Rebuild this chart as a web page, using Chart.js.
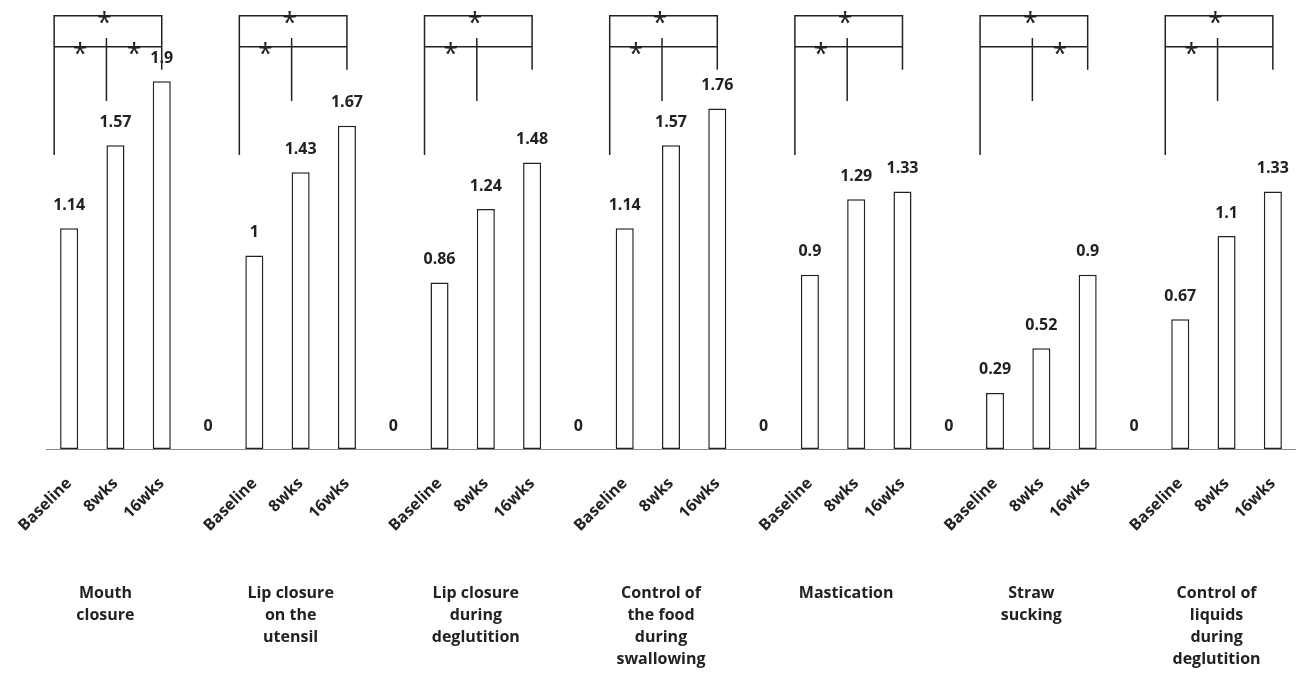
<!DOCTYPE html>
<html>
<head>
<meta charset="utf-8">
<script src="https://cdn.jsdelivr.net/npm/chart.js@4.4.0/dist/chart.umd.min.js"></script>
<style>
  html, body { margin: 0; padding: 0; background: #fff; }
  #wrap { width: 1296px; height: 673px; }
</style>
</head>
<body>
<div id="wrap"><canvas id="chart"></canvas></div>
<script>
const groups = [
  ['Mouth', 'closure'],
  ['Lip closure', 'on the', 'utensil'],
  ['Lip closure', 'during', 'deglutition'],
  ['Control of', 'the food', 'during', 'swallowing'],
  ['Mastication'],
  ['Straw', 'sucking'],
  ['Control of', 'liquids', 'during', 'deglutition']
];
const timepoints = ['Baseline', '8wks', '16wks'];
const baseline = [1.14, 1, 0.86, 1.14, 0.9, 0.29, 0.67];
const week8 = [1.57, 1.43, 1.24, 1.57, 1.29, 0.52, 1.1];
const week16 = [1.9, 1.67, 1.48, 1.76, 1.33, 0.9, 1.33];
const gapValue = 0;

// asterisks: overall bracket, baseline vs 8wks, 8wks vs 16wks
const sigOverall = [true, true, true, true, true, true, true];
const sigBase8 = [true, true, true, true, true, false, true];
const sig8to16 = [true, false, false, false, false, true, false];

// flatten into one category axis, with an empty "0" column between groups
const labels = [];
const values = [];
const isGap = [];
groups.forEach((g, i) => {
  [baseline[i], week8[i], week16[i]].forEach((v, t) => {
    labels.push(timepoints[t]);
    values.push(v);
    isGap.push(false);
  });
  if (i < groups.length - 1) {
    labels.push('');
    values.push(gapValue);
    isGap.push(true);
  }
});

const ink = '#222';
const fontFamily = '"Open Sans", "Noto Sans", sans-serif';

const valueLabels = {
  id: 'valueLabels',
  afterDatasetsDraw(chart) {
    const ctx = chart.ctx;
    const meta = chart.getDatasetMeta(0);
    ctx.save();
    ctx.font = 'bold 16px ' + fontFamily;
    ctx.fillStyle = ink;
    ctx.textAlign = 'center';
    ctx.textBaseline = 'middle';
    meta.data.forEach((bar, i) => {
      ctx.fillText(String(values[i]), bar.x, bar.y - 23);
    });
    ctx.restore();
  }
};

const brackets = {
  id: 'brackets',
  afterDraw(chart) {
    const ctx = chart.ctx;
    const x = chart.scales.x;
    const y = chart.scales.y;
    ctx.save();
    ctx.strokeStyle = ink;
    ctx.lineWidth = 1.5;
    ctx.fillStyle = ink;
    ctx.font = '27px ' + fontFamily;
    ctx.textAlign = 'center';
    ctx.textBaseline = 'alphabetic';
    const yTop = y.getPixelForValue(2.238);
    const yMid = y.getPixelForValue(2.078);
    groups.forEach((g, i) => {
      const xl = x.getPixelForValue(i * 4) - 15;
      const xm = x.getPixelForValue(i * 4 + 1) - 9;
      const xr = x.getPixelForValue(i * 4 + 2);
      ctx.beginPath();
      ctx.moveTo(xl, y.getPixelForValue(1.519));
      ctx.lineTo(xl, yTop);
      ctx.lineTo(xr, yTop);
      ctx.lineTo(xr, y.getPixelForValue(1.959));
      ctx.moveTo(xl, yMid);
      ctx.lineTo(xr, yMid);
      ctx.moveTo(xm, y.getPixelForValue(2.124));
      ctx.lineTo(xm, y.getPixelForValue(1.798));
      ctx.stroke();
      if (sigOverall[i]) ctx.fillText('*', xm - 2, yTop + 16);
      if (sigBase8[i]) ctx.fillText('*', (xl + xm) / 2, yMid + 16);
      if (sig8to16[i]) ctx.fillText('*', (xm + xr) / 2, yMid + 16);
    });
    ctx.restore();
  }
};

const groupNames = {
  id: 'groupNames',
  afterDraw(chart) {
    const ctx = chart.ctx;
    const x = chart.scales.x;
    ctx.save();
    ctx.font = 'bold 16px ' + fontFamily;
    ctx.fillStyle = ink;
    ctx.textAlign = 'center';
    ctx.textBaseline = 'middle';
    groups.forEach((lines, i) => {
      const cx = x.getPixelForValue(i * 4 + 1) - 10;
      lines.forEach((line, k) => ctx.fillText(line, cx, 593 + k * 22));
    });
    ctx.restore();
  }
};

new Chart(document.getElementById('chart'), {
  type: 'bar',
  data: {
    labels: labels,
    datasets: [{
      data: values,
      backgroundColor: '#fff',
      borderColor: isGap.map(g => g ? 'rgba(0,0,0,0)' : ink),
      borderWidth: 1.5,
      borderSkipped: false,
      barPercentage: 0.39,
      categoryPercentage: 1
    }]
  },
  options: {
    responsive: true,
    maintainAspectRatio: false,
    animation: false,
    layout: { padding: { left: 46, right: 0, top: 0, bottom: 0 } },
    plugins: { legend: { display: false }, tooltip: { enabled: false } },
    scales: {
      x: {
        grid: { display: false, drawTicks: false },
        border: { display: true, color: '#888', width: 1 },
        ticks: {
          autoSkip: false,
          minRotation: 45,
          maxRotation: 45,
          padding: 25,
          color: ink,
          font: { family: fontFamily, size: 16, weight: 'bold' }
        },
        afterFit(scale) {
          scale.height = 224;
          scale.paddingLeft = 0;
          scale.paddingRight = 0;
        }
      },
      y: {
        display: false,
        min: 0,
        max: 2.32
      }
    }
  },
  plugins: [valueLabels, brackets, groupNames]
});
</script>
</body>
</html>
